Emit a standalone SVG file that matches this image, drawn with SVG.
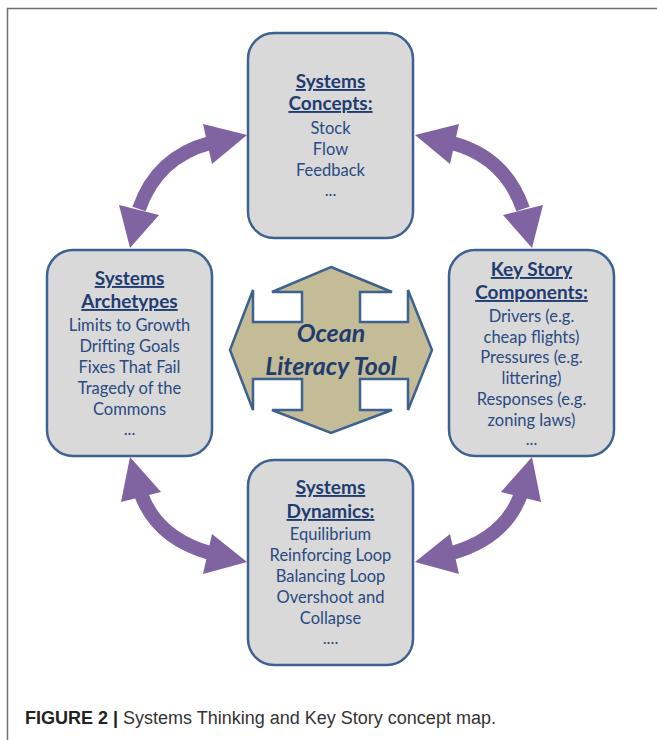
<svg xmlns="http://www.w3.org/2000/svg" width="657" height="740" viewBox="0 0 657 740">
<style>
.frame{fill:none;stroke:#6f6f6f;stroke-width:1.5}
.box{fill:#d9d9d9;stroke:#3d6190;stroke-width:2.5}
.ttl{font-family:Lato,"Open Sans",sans-serif;font-weight:bold;font-size:19px;fill:#1f3c70;text-anchor:middle;text-decoration:underline}
.itm{font-family:Lato,"Open Sans",sans-serif;font-size:16.5px;fill:#2a4a82;text-anchor:middle}
.shaft{fill:none;stroke:#8064a2;stroke-width:14}
.head{fill:#8064a2}
.hub{fill:#c4bc96;stroke:#3d6190;stroke-width:2.5;stroke-linejoin:miter}
.hubt{font-family:Lato,"Open Sans",sans-serif;font-weight:bold;font-style:italic;font-size:25px;fill:#1f3c70;text-anchor:middle}
.capb{font-family:"Liberation Sans",Arial,sans-serif;font-weight:bold;font-size:18px;fill:#222}
.cap{font-family:"Liberation Sans",Arial,sans-serif;font-size:18px;fill:#333}
</style>
<path class="frame" d="M7.5,740 V8.5 H657"/>
<g id="connectors">
  <g id="arrow-tl">
    <path class="shaft" d="M210,143 Q157,157 139,209"/>
    <polygon class="head" points="247,135 203,124 212,164"/>
    <polygon class="head" points="130,248 119,205 159,215"/>
  </g>
  <g id="arrow-tr">
    <path class="shaft" d="M452,143 Q505,157 523,209"/>
    <polygon class="head" points="415,135 459,124 450,164"/>
    <polygon class="head" points="532,248 543,205 503,215"/>
  </g>
  <g id="arrow-bl">
    <path class="shaft" d="M141,494 Q157,538 210,553"/>
    <polygon class="head" points="130,457 121,502 161,492"/>
    <polygon class="head" points="247,562 212,534 203,574"/>
  </g>
  <g id="arrow-br">
    <path class="shaft" d="M521,494 Q505,538 452,553"/>
    <polygon class="head" points="532,457 541,502 501,492"/>
    <polygon class="head" points="415,562 450,534 459,574"/>
  </g>
</g>
<g id="concepts">
  <rect class="box" x="248" y="33" width="165" height="205" rx="26"/>
  <text class="ttl" x="330.5" y="88">Systems</text>
  <text class="ttl" x="330.5" y="110">Concepts:</text>
  <text class="itm" x="330.5" y="134">Stock</text>
  <text class="itm" x="330.5" y="155">Flow</text>
  <text class="itm" x="330.5" y="176">Feedback</text>
  <text class="itm" x="330.5" y="196">...</text>
</g>
<g id="archetypes">
  <rect class="box" x="47" y="250" width="165" height="206" rx="26"/>
  <text class="ttl" x="129.5" y="285">Systems</text>
  <text class="ttl" x="129.5" y="308">Archetypes</text>
  <text class="itm" x="129.5" y="331">Limits to Growth</text>
  <text class="itm" x="129.5" y="352">Drifting Goals</text>
  <text class="itm" x="129.5" y="373">Fixes That Fail</text>
  <text class="itm" x="129.5" y="394">Tragedy of the</text>
  <text class="itm" x="129.5" y="415">Commons</text>
  <text class="itm" x="129.5" y="435">...</text>
</g>
<g id="keystory">
  <rect class="box" x="449" y="250" width="165" height="206" rx="26"/>
  <text class="ttl" x="531.5" y="276">Key Story</text>
  <text class="ttl" x="531.5" y="299">Components:</text>
  <text class="itm" x="531.5" y="322">Drivers (e.g.</text>
  <text class="itm" x="531.5" y="343">cheap flights)</text>
  <text class="itm" x="531.5" y="363">Pressures (e.g.</text>
  <text class="itm" x="531.5" y="384">littering)</text>
  <text class="itm" x="531.5" y="405">Responses (e.g.</text>
  <text class="itm" x="531.5" y="426">zoning laws)</text>
  <text class="itm" x="531.5" y="445">...</text>
</g>
<g id="dynamics">
  <rect class="box" x="248" y="460" width="165" height="205" rx="26"/>
  <text class="ttl" x="330.5" y="494">Systems</text>
  <text class="ttl" x="330.5" y="518">Dynamics:</text>
  <text class="itm" x="330.5" y="540">Equilibrium</text>
  <text class="itm" x="330.5" y="561">Reinforcing Loop</text>
  <text class="itm" x="330.5" y="582">Balancing Loop</text>
  <text class="itm" x="330.5" y="603">Overshoot and</text>
  <text class="itm" x="330.5" y="624">Collapse</text>
  <text class="itm" x="330.5" y="644">....</text>
</g>
<g id="tool">
  <polygon class="hub" points="331,267 392,292 360,292 360,322 408,322 408,290 432,350 408,410 408,379 360,379 360,410 392,410 331,433 272,410 302,410 302,379 253,379 253,410 230,350 253,290 253,322 302,322 302,292 272,292"/>
  <text class="hubt" x="331" y="342">Ocean</text>
  <text class="hubt" x="331" y="375">Literacy Tool</text>
</g>
<g id="caption">
  <text x="25" y="724"><tspan class="capb">FIGURE 2 | </tspan><tspan class="cap">Systems Thinking and Key Story concept map.</tspan></text>
</g>
</svg>
